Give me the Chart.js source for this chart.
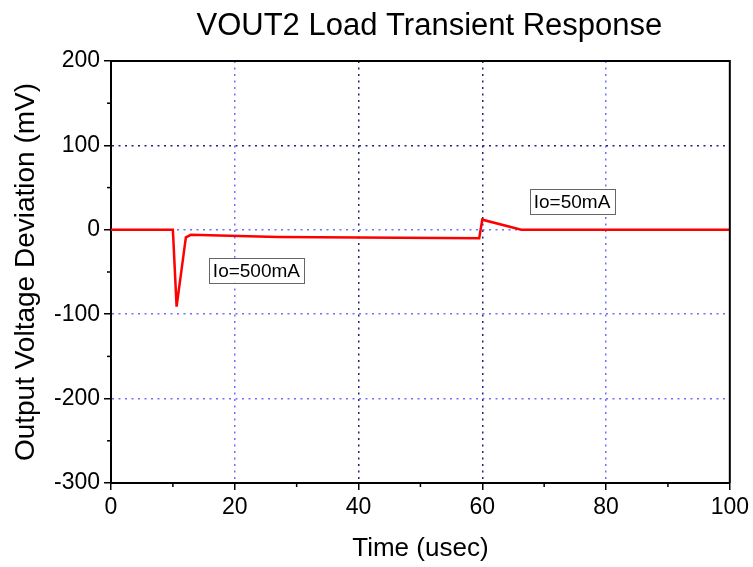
<!DOCTYPE html>
<html>
<head>
<meta charset="utf-8">
<script src="https://cdn.jsdelivr.net/npm/chart.js@4/dist/chart.umd.min.js"></script>
<style>
  html, body { margin: 0; padding: 0; background: #fff; }
</style>
</head>
<body>
<canvas id="chart" width="753" height="567"></canvas>
<script>
// data
const timeUs = [0, 10.0, 10.6, 12.1, 12.9, 27, 40, 59.5, 60.0, 66.3, 100];
const deviationMv = [0, 0, -91, -9, -6, -8.5, -9, -10, 12, 0, 0];

const xTicks = [0, 20, 40, 60, 80, 100];
const yTicks = [-300, -200, -100, 0, 100, 200];

const notes = [
    { text: 'Io=500mA', x: 23.5, y: -48 },
    { text: 'Io=50mA', x: 74.5, y: 33 }
];

const lightBlue = '#6f6fff';
const darkBlue = '#23237a';
const font = "Arial, 'Liberation Sans', sans-serif";

// which grid lines are drawn in the darker colour
const darkX = [40, 60];
const darkY = [100];

function gridColor(dark) {
    return (ctx) => {
        const v = ctx.tick ? ctx.tick.value : null;
        if (v === null) return 'transparent';
        if (ctx.scale.axis === 'x') {
            if (v % 20 !== 0 || v === 0 || v === 100) return 'transparent';
        } else {
            if (v % 100 !== 0 || v === -300 || v === 200) return 'transparent';
        }
        return dark.includes(v) ? darkBlue : lightBlue;
    };
}

function majorTickColor(step) {
    return (ctx) => (ctx.tick && ctx.tick.value % step === 0) ? '#000' : 'transparent';
}

// minor ticks, frame, notes and title
const extras = {
    id: 'extras',
    afterDatasetsDraw(chart) {
        const { ctx, scales } = chart;
        ctx.save();
        ctx.font = '19px ' + font;
        ctx.textBaseline = 'middle';
        ctx.textAlign = 'center';
        notes.forEach(n => {
            const px = scales.x.getPixelForValue(n.x);
            const py = scales.y.getPixelForValue(n.y);
            const w = ctx.measureText(n.text).width + 8;
            const h = 25;
            ctx.fillStyle = '#fff';
            ctx.fillRect(px - w / 2, py - h / 2, w, h);
            ctx.strokeStyle = '#666';
            ctx.lineWidth = 1;
            ctx.strokeRect(Math.round(px - w / 2) + 0.5, Math.round(py - h / 2) + 0.5, Math.round(w), h);
            ctx.fillStyle = '#000';
            ctx.fillText(n.text, px, py + 1);
        });
        ctx.restore();
    },
    afterDraw(chart) {
        const { ctx, chartArea: a, scales } = chart;
        ctx.save();
        ctx.strokeStyle = '#000';
        ctx.lineWidth = 1.5;
        // minor ticks
        scales.x.ticks.forEach(t => {
            if (t.value % 20 === 0) return;
            const px = scales.x.getPixelForValue(t.value);
            ctx.beginPath();
            ctx.moveTo(px, a.bottom);
            ctx.lineTo(px, a.bottom + 4);
            ctx.stroke();
        });
        scales.y.ticks.forEach(t => {
            if (t.value % 100 === 0) return;
            const py = scales.y.getPixelForValue(t.value);
            ctx.beginPath();
            ctx.moveTo(a.left, py);
            ctx.lineTo(a.left - 4, py);
            ctx.stroke();
        });
        // top and right edges of the frame
        ctx.lineWidth = 2;
        ctx.beginPath();
        ctx.moveTo(a.left, a.top);
        ctx.lineTo(a.right, a.top);
        ctx.lineTo(a.right, a.bottom);
        ctx.stroke();
        // title
        ctx.fillStyle = '#000';
        ctx.font = '31px ' + font;
        ctx.textAlign = 'center';
        ctx.textBaseline = 'middle';
        ctx.fillText('VOUT2 Load Transient Response', (a.left + a.right) / 2 + 9, 26);
        ctx.restore();
    }
};

new Chart(document.getElementById('chart'), {
    type: 'line',
    data: {
        datasets: [{
            data: timeUs.map((t, i) => ({ x: t, y: deviationMv[i] })),
            borderColor: '#ff0000',
            borderWidth: 2.5,
            pointRadius: 0,
            tension: 0,
            fill: false
        }]
    },
    options: {
        responsive: false,
        animation: false,
        devicePixelRatio: 1,
        layout: { padding: { top: 61, right: 22, left: 0, bottom: 0 } },
        plugins: {
            legend: { display: false },
            tooltip: { enabled: false }
        },
        scales: {
            x: {
                type: 'linear',
                min: 0,
                max: 100,
                afterFit: (s) => { s.height = 84; },
                ticks: {
                    stepSize: 10,
                    autoSkip: false,
                    maxRotation: 0,
                    padding: 4,
                    color: '#000',
                    font: { family: font, size: 23 },
                    callback: (v) => xTicks.includes(v) ? String(v) : ''
                },
                grid: {
                    color: gridColor(darkX),
                    lineWidth: 1.5,
                    tickLength: 7,
                    tickWidth: 1.5,
                    tickColor: majorTickColor(20)
                },
                border: { color: '#000', width: 2, dash: [2, 4.5] },
                title: {
                    display: true,
                    text: 'Time (usec)',
                    color: '#000',
                    font: { family: font, size: 26 },
                    padding: { top: 0, bottom: 3 }
                }
            },
            y: {
                type: 'linear',
                min: -300,
                max: 200,
                afterFit: (s) => { s.width = 111; },
                ticks: {
                    stepSize: 50,
                    autoSkip: false,
                    padding: 4,
                    color: '#000',
                    font: { family: font, size: 23 },
                    callback: (v) => yTicks.includes(v) ? String(v) : ''
                },
                grid: {
                    color: gridColor(darkY),
                    lineWidth: 1.5,
                    tickLength: 7,
                    tickWidth: 1.5,
                    tickColor: majorTickColor(100)
                },
                border: { color: '#000', width: 2, dash: [2, 4.5] },
                title: {
                    display: true,
                    text: 'Output Voltage Deviation (mV)',
                    color: '#000',
                    font: { family: font, size: 28 },
                    padding: { top: 9, bottom: 0 }
                }
            }
        }
    },
    plugins: [extras]
});
</script>
</body>
</html>
